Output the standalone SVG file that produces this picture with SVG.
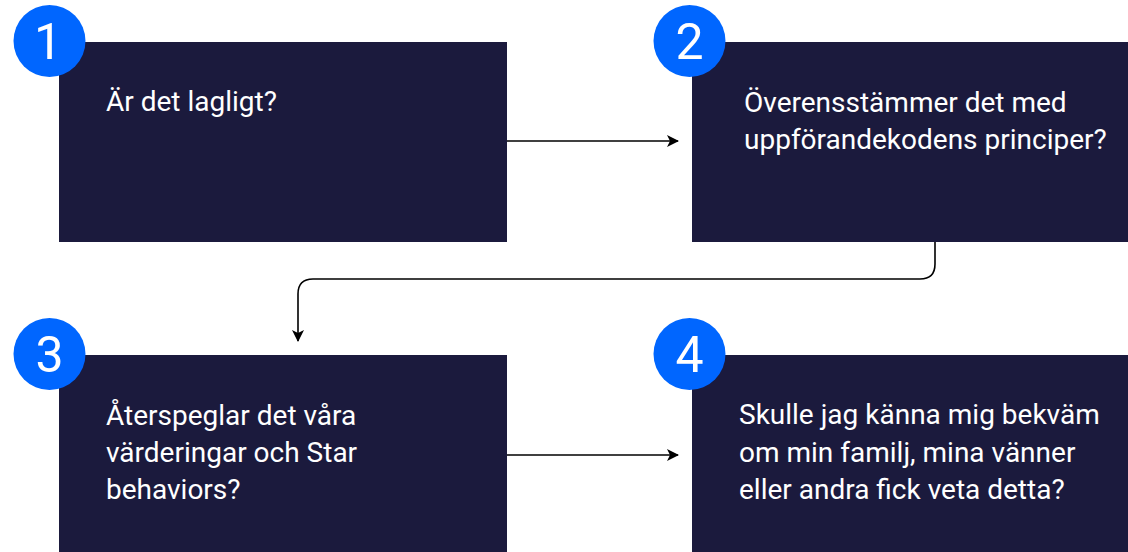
<svg xmlns="http://www.w3.org/2000/svg" width="1128" height="552" viewBox="0 0 1128 552">
<style>
.box{fill:#1b1a3d}
.badge{fill:#0066ff}
.num{font-family:Roboto,"Liberation Sans",sans-serif;font-size:50px;fill:#ffffff;text-anchor:middle}
.lbl{font-family:Roboto,"Liberation Sans",sans-serif;font-size:28px;fill:#ffffff}
.conn{fill:none;stroke:#000000;stroke-width:1.6}
</style>
<defs>
<marker id="arr" viewBox="0 0 12 12" refX="11" refY="6" markerWidth="12" markerHeight="12" markerUnits="userSpaceOnUse" orient="auto">
<path d="M0,0 L12,6 L0,12 L3,6 Z" fill="#000000"/>
</marker>
</defs>
<rect width="1128" height="552" fill="#ffffff"/>
<g id="connectors">
<path class="conn" d="M507,141 L678,141" marker-end="url(#arr)"/>
<path class="conn" d="M935,242 L935,264 Q935,279 920,279 L313,279 Q298,279 298,294 L298,341" marker-end="url(#arr)"/>
<path class="conn" d="M507,455 L678,455" marker-end="url(#arr)"/>
</g>
<g id="node1">
<rect class="box" x="59" y="42" width="448" height="200"/>
<text class="lbl" x="106" y="111">Är det lagligt?</text>
<circle class="badge" cx="49.5" cy="41" r="36"/>
<text class="num" x="48" y="59">1</text>
</g>
<g id="node2">
<rect class="box" x="692" y="42" width="436" height="200"/>
<text class="lbl" x="744" y="112">Överensstämmer det med</text>
<text class="lbl" x="744" y="149">uppförandekodens principer?</text>
<circle class="badge" cx="689.5" cy="41" r="36"/>
<text class="num" x="689.5" y="59">2</text>
</g>
<g id="node3">
<rect class="box" x="59" y="355" width="448" height="197"/>
<text class="lbl" x="106" y="425">Återspeglar det våra</text>
<text class="lbl" x="106" y="462">värderingar och Star</text>
<text class="lbl" x="106" y="499">behaviors?</text>
<circle class="badge" cx="49.5" cy="354" r="36"/>
<text class="num" x="49.5" y="372">3</text>
</g>
<g id="node4">
<rect class="box" x="692" y="355" width="436" height="197"/>
<text class="lbl" x="739" y="424">Skulle jag känna mig bekväm</text>
<text class="lbl" x="739" y="462">om min familj, mina vänner</text>
<text class="lbl" x="739" y="499">eller andra fick veta detta?</text>
<circle class="badge" cx="689.5" cy="354" r="36"/>
<text class="num" x="689.5" y="372">4</text>
</g>
</svg>
